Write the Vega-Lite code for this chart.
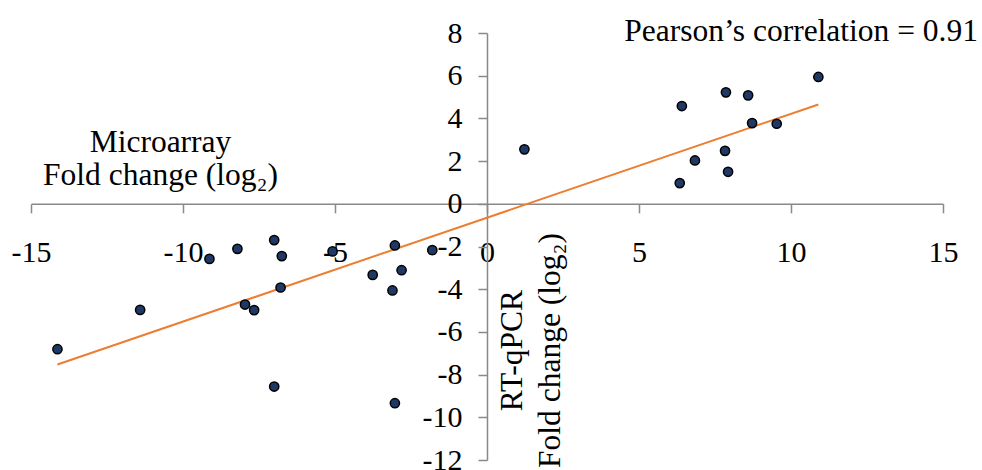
{
  "$schema": "https://vega.github.io/schema/vega-lite/v6.json",
  "width": 912,
  "height": 427,
  "autosize": {"type": "none"},
  "padding": {"left": 31, "top": 33, "right": 39, "bottom": 10},
  "background": "white",
  "title": {
    "text": "Pearson’s correlation = 0.91",
    "anchor": "end",
    "frame": "group",
    "font": "Liberation Serif",
    "fontSize": 31.5,
    "fontWeight": "normal",
    "color": "black",
    "baseline": "alphabetic",
    "dx": 35,
    "dy": 58
  },
  "config": {
    "view": {"stroke": null},
    "axis": {
      "grid": false,
      "domainColor": "#898989",
      "domainWidth": 1.5,
      "tickColor": "#898989",
      "tickWidth": 1.5,
      "tickSize": 9,
      "labelFont": "Liberation Serif",
      "labelFontSize": 30,
      "labelColor": "black",
      "labelFlush": false,
      "labelOverlap": false,
      "labelExpr": "'' + datum.value",
      "titleFont": "Liberation Serif",
      "titleFontSize": 31.5,
      "titleFontWeight": "normal",
      "titleColor": "black",
      "titleAlign": "center",
      "titleBaseline": "alphabetic"
    }
  },
  "data": {
    "values": [
      {"microarray": -14.13, "rtqpcr": -6.81},
      {"microarray": -11.41, "rtqpcr": -4.97},
      {"microarray": -9.13, "rtqpcr": -2.58},
      {"microarray": -8.21, "rtqpcr": -2.11},
      {"microarray": -7.0, "rtqpcr": -1.7},
      {"microarray": -6.75, "rtqpcr": -2.45},
      {"microarray": -7.96, "rtqpcr": -4.72},
      {"microarray": -7.66, "rtqpcr": -4.98},
      {"microarray": -6.79, "rtqpcr": -3.92},
      {"microarray": -7.0, "rtqpcr": -8.56},
      {"microarray": -5.08, "rtqpcr": -2.23},
      {"microarray": -3.76, "rtqpcr": -3.33},
      {"microarray": -3.03, "rtqpcr": -1.95},
      {"microarray": -2.81, "rtqpcr": -3.11},
      {"microarray": -3.11, "rtqpcr": -4.06},
      {"microarray": -3.03, "rtqpcr": -9.34},
      {"microarray": -1.8, "rtqpcr": -2.17},
      {"microarray": 1.23, "rtqpcr": 2.55},
      {"microarray": 6.41, "rtqpcr": 4.58},
      {"microarray": 6.34, "rtqpcr": 0.97},
      {"microarray": 6.84, "rtqpcr": 2.03},
      {"microarray": 7.86, "rtqpcr": 5.22},
      {"microarray": 7.83, "rtqpcr": 2.48},
      {"microarray": 7.93, "rtqpcr": 1.5},
      {"microarray": 8.59, "rtqpcr": 5.08},
      {"microarray": 8.72, "rtqpcr": 3.78},
      {"microarray": 9.53, "rtqpcr": 3.75},
      {"microarray": 10.9, "rtqpcr": 5.94}
    ]
  },
  "layer": [
    {
      "transform": [{"regression": "rtqpcr", "on": "microarray"}],
      "mark": {"type": "line", "color": "#ED7D31", "strokeWidth": 2},
      "encoding": {
        "x": {"field": "microarray", "type": "quantitative"},
        "y": {"field": "rtqpcr", "type": "quantitative"}
      }
    },
    {
      "mark": {"type": "point", "shape": "circle", "filled": true, "size": 85, "fill": "#1F3864", "stroke": "black", "strokeWidth": 1.5, "opacity": 1},
      "encoding": {
        "x": {
          "field": "microarray",
          "type": "quantitative",
          "scale": {"domain": [-15, 15], "nice": false, "zero": false},
          "axis": {
            "title": ["Microarray", "Fold change (log₂)"],
            "orient": "bottom",
            "offset": -256.2,
            "values": [-15, -10, -5, 0, 5, 10, 15],
            "labelPadding": 25,
            "titleX": 129,
            "titleY": -52,
            "titleAngle": 0,
            "titleLineHeight": 33
          }
        },
        "y": {
          "field": "rtqpcr",
          "type": "quantitative",
          "scale": {"domain": [-12, 8], "nice": false, "zero": false},
          "axis": {
            "title": ["RT-qPCR", "Fold change (log₂)"],
            "orient": "left",
            "offset": -456,
            "values": [-12, -10, -8, -6, -4, -2, 0, 2, 4, 6, 8],
            "labelPadding": 16,
            "titleX": 34,
            "titleY": 317,
            "titleAngle": 270,
            "titleLineHeight": 38
          }
        }
      }
    }
  ]
}
